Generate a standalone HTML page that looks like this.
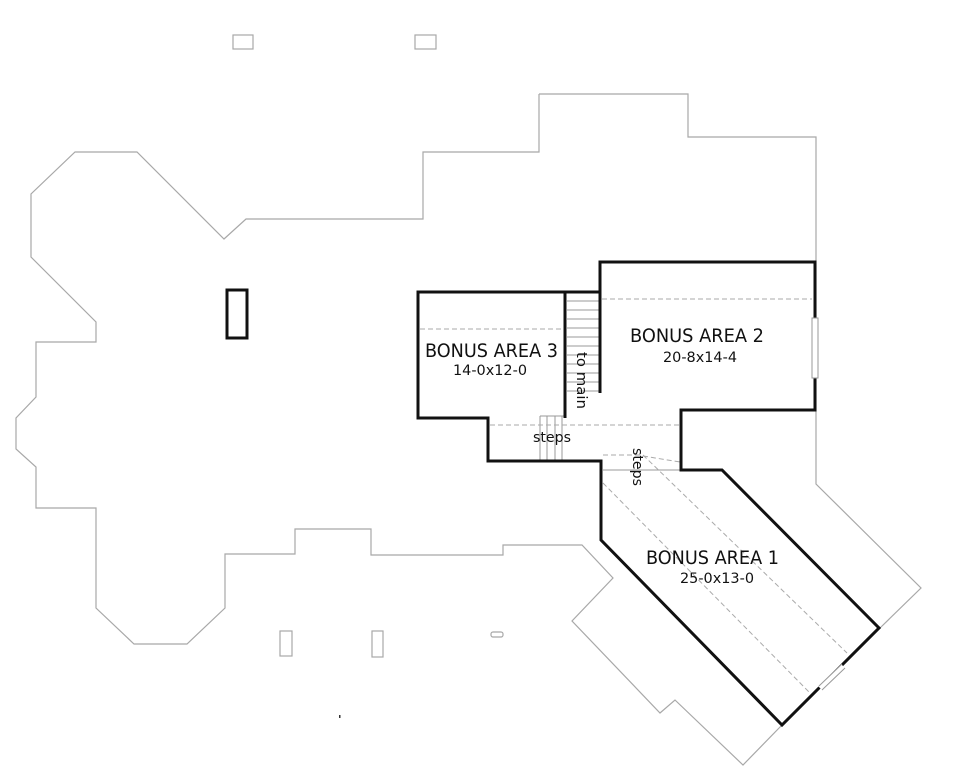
<!DOCTYPE html>
<html><head><meta charset="utf-8"><style>
html,body{margin:0;padding:0;background:#fff;}
svg{display:block;}
text{font-family:"DejaVu Sans","Liberation Sans",sans-serif;fill:#111;}
</style></head><body>
<svg width="960" height="784" viewBox="0 0 960 784" xmlns="http://www.w3.org/2000/svg">
<rect width="960" height="784" fill="#fff"/>
<!-- outline -->
<g fill="none" stroke="#a8a8a8" stroke-width="1.2">
<polyline points="539,94 688,94 688,137 816,137 816,484 921,588 880,628"/>
<polyline points="782,725 743,765 675,700 660,713 572,621 613,578 582,545 503,545 503,555 371,555 371,529 295,529 295,554 225,554 225,608 187,644 134,644 96,608 96,508 36,508 36,467 16,449 16,418 36,397 36,342 96,342 96,322 31,257 31,194 75,152 137,152 224,239 246,219 423,219 423,152 539,152 539,94"/>
<rect x="233" y="35" width="20" height="14"/>
<rect x="415" y="35" width="21" height="14"/>
<rect x="280" y="631" width="12" height="25"/>
<rect x="372" y="631" width="11" height="26"/>
<rect x="491" y="632" width="12" height="5" rx="2"/>
</g>
<rect x="227" y="290" width="20" height="48" fill="none" stroke="#111" stroke-width="3"/>
<rect x="339" y="715" width="1.5" height="3" fill="#333"/>
<!-- stairs treads -->
<g stroke="#999" stroke-width="1">
<line x1="567" y1="301" x2="599" y2="301"/><line x1="567" y1="310" x2="599" y2="310"/>
<line x1="567" y1="319" x2="599" y2="319"/><line x1="567" y1="328" x2="599" y2="328"/>
<line x1="567" y1="337" x2="599" y2="337"/><line x1="567" y1="346" x2="599" y2="346"/>
<line x1="567" y1="355" x2="599" y2="355"/><line x1="567" y1="364" x2="599" y2="364"/>
<line x1="567" y1="373" x2="599" y2="373"/><line x1="567" y1="382" x2="599" y2="382"/>
<line x1="567" y1="391" x2="599" y2="391"/>
<line x1="540" y1="416" x2="540" y2="461"/><line x1="547" y1="416" x2="547" y2="461"/>
<line x1="555" y1="416" x2="555" y2="461"/><line x1="562" y1="416" x2="562" y2="461"/>
<line x1="540" y1="416" x2="565" y2="416"/>
<line x1="603" y1="470" x2="681" y2="470"/>
</g>
<!-- dashed -->
<g stroke="#aaa" stroke-width="1" stroke-dasharray="5,3" fill="none">
<line x1="420" y1="329" x2="563" y2="329"/>
<line x1="602" y1="299" x2="812" y2="299"/>
<line x1="490" y1="425" x2="680" y2="425"/>
<polyline points="603,455 643,455 847,653"/>
<line x1="603" y1="483" x2="810" y2="693"/>
<line x1="643" y1="456" x2="680" y2="462"/>
</g>
<!-- thick walls -->
<g fill="none" stroke="#111" stroke-width="3" stroke-linejoin="miter">
<polyline points="565,418 565,292 418,292 418,418 488,418 488,461 601,461 601,540 782,725 879,628 722,470 681,470 681,410 815,410 815,262 600,262 600,393"/>
<line x1="565" y1="292" x2="600" y2="292"/>
</g>
<!-- windows -->
<rect x="812" y="318" width="6" height="60" fill="#fff" stroke="#999" stroke-width="1"/>
<line x1="820" y1="688" x2="843" y2="666" stroke="#fff" stroke-width="5"/>
<line x1="819" y1="686" x2="842" y2="664" stroke="#999" stroke-width="1"/>
<line x1="822" y1="690" x2="845" y2="668" stroke="#999" stroke-width="1"/>
<!-- labels -->
<text x="425" y="357" font-size="19" textLength="133" lengthAdjust="spacingAndGlyphs">BONUS AREA 3</text>
<text x="453" y="375" font-size="14" textLength="74" lengthAdjust="spacingAndGlyphs">14-0x12-0</text>
<text x="630" y="342" font-size="19" textLength="134" lengthAdjust="spacingAndGlyphs">BONUS AREA 2</text>
<text x="663" y="362" font-size="14" textLength="74" lengthAdjust="spacingAndGlyphs">20-8x14-4</text>
<text x="646" y="564" font-size="19" textLength="133" lengthAdjust="spacingAndGlyphs">BONUS AREA 1</text>
<text x="680" y="583" font-size="14" textLength="74" lengthAdjust="spacingAndGlyphs">25-0x13-0</text>
<text x="533" y="442" font-size="14" textLength="38" lengthAdjust="spacingAndGlyphs">steps</text>
<text transform="translate(577,352) rotate(90)" font-size="14" textLength="57" lengthAdjust="spacingAndGlyphs">to main</text>
<text transform="translate(633,448) rotate(90)" font-size="14" textLength="38" lengthAdjust="spacingAndGlyphs">steps</text>
</svg>
</body></html>
